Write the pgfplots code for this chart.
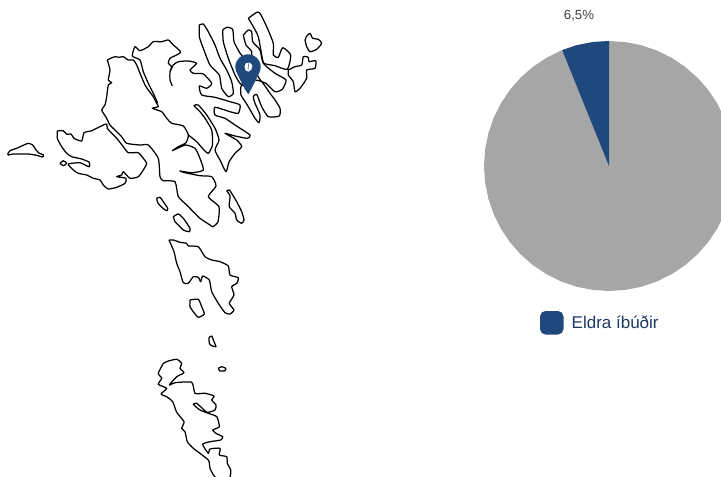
\documentclass[border=0pt]{standalone}
\usepackage{fontspec}
\setmainfont{Liberation Sans}
\usepackage{pgfplots}
\pgfplotsset{compat=1.18}
\definecolor{pieblue}{RGB}{31,73,125}
\definecolor{piegrey}{RGB}{166,166,166}
\definecolor{labgrey}{RGB}{64,64,64}
\definecolor{legtext}{RGB}{28,56,100}
\pgfplotsset{
 isl/.style={black,line width=1.25pt,line join=round,no marks,smooth,tension=0.35},
}
\begin{document}
\begin{tikzpicture}
\useasboundingbox (0,0) rectangle (721bp,477bp);
\begin{axis}[
 at={(0,0)},anchor=south west,
 width=721bp,height=477bp,scale only axis,
 xmin=0,xmax=721,ymin=0,ymax=477,y dir=reverse,
 axis lines=none,enlargelimits=false,clip=true]
% Mykines
\addplot[isl] coordinates {(7.7,154)(10,150.7)(16.7,148.3)(21.7,146)(28.3,143.3)(32.7,145)(36,150)(39.3,153.3)(43.3,154.7)(42.7,157)(36.7,155.3)(28.3,154)(21.7,154)(13.3,154)(8.3,155)(7.7,154)};
% Vagar
\addplot[isl] coordinates {(57.3,131)(63.3,130.7)(66.7,134.3)(71,134)(74,138.3)(81.7,141)(84,132.7)(91.7,130.7)(106,124)(107.3,128.3)(111.7,133.3)(116.7,138.3)(123.3,146.7)(128.3,152.7)(138.3,152.7)(143.3,158.3)(146.7,163.3)(143.3,170)(138.3,176.7)(130,178.3)(123.3,171.7)(121.7,175)(116.7,176.7)(126,178.3)(125,183.3)(116.7,187.3)(108.3,189)(103.3,185)(100,180)(93.3,178.3)(86.7,175)(78.3,173.3)(73.3,170)(68.3,164)(80,162.7)(85,165)(89.3,166.7)(89.3,162.3)(81.7,159)(71.7,156.7)(66.7,153.3)(61.7,146.7)(57.3,138.3)(57.3,131)};
\addplot[isl] coordinates {(60,163.3)(63.3,160.7)(66.7,163.3)(63.3,165.7)(60,163.3)};
% Streymoy
\addplot[isl] coordinates {(107.3,60)(110.7,58.3)(115,56.7)(119.3,57.3)(123.3,56.7)(128.3,60)(133.3,60)(136.7,65)(140,73.3)(145,85)(148.3,90)(153.3,96.7)(156.7,103.3)(158.3,106.7)(152.3,108.3)(161.7,111.7)(166.7,118.3)(171.7,123.3)(183.3,126)(188.3,135)(186,142.7)(178.3,146.7)(172.3,150.7)(178,148)(186,145)(195,148.3)(199.3,156.7)(203.3,170)(191.7,172.7)(180,171)(185,172.7)(200,175.7)(211.7,176.7)(216,186)(208.3,196.7)(219,206.7)(218,221.7)(213,226.7)(210,225)(200,218.3)(186.7,205)(178.3,196.7)(175,181.7)(163.3,180.7)(160,176.7)(158.3,158.3)(148.3,145)(140,145)(126.7,143.3)(121.7,136.7)(116.7,131.7)(110,125)(106.7,118.3)(101.7,110)(105,105)(106.7,96.7)(108.3,85)(111.7,82.7)(108.3,80)(110,70)(107.3,60)};
% Eysturoy
\addplot[isl] coordinates {(157.7,103.3)(153.3,93.3)(148.3,83.3)(143.3,71.7)(140,60)(132.3,56)(135,46.7)(140,50.7)(148.3,46.7)(153.3,41.7)(161.7,41.7)(168.3,40)(173.3,45)(180.7,52.3)(170,58.3)(168.3,63.3)(171.7,66.7)(170,71.7)(170,80)(172.3,86)};
\addplot[isl] coordinates {(170,71.7)(173.3,65)(178.3,61.7)(188.3,61)(196.7,63.3)(190,70)(193.3,73.3)(203.3,74)(211.7,83.3)(206.7,88.3)(199.3,86)(201.7,95)(215,97.3)(230,101.7)(240,105)(238.3,113.3)(230,111.7)(215,107.3)(215,115)(225,118.3)(235,125)(250,135)(247.3,138.3)(235,136)(225,133.3)(236.7,140)(241.7,146.7)(235,153.3)(229,162)(226,171.7)(220,160)(215,150)(219,140)(215,128.3)(206.7,115)(198.3,105)(194,105.7)(200,111.7)(205,118.3)(211.7,130)(212.5,145)(208.3,153.3)(203.3,149.3)(196.7,141.7)(188.3,135)};
% Kunoy / Kalsoy / Bordoy
\addplot[isl] coordinates {(199.3,25)(203.3,24)(208.3,31.7)(215,45)(220,58.3)(226.7,70)(231.7,81.7)(233.3,93.3)(228.3,96.7)(221.7,88.3)(219.3,75)(210,65)(203.3,48.3)(199.3,36.7)(199.3,25)};
\addplot[isl] coordinates {(222.7,30)(226.7,27.3)(232.7,29.3)(234,41.7)(240,53.3)(243.3,58.3)(245,85)(240,83.3)(235,75)(228.3,58.3)(223.3,41.7)(222.7,30)};
\addplot[isl] coordinates {(243.3,35)(248.3,30)(251.7,31.7)(252.7,41.7)(260,50)(263.3,63.3)(275,73.3)(286,80)(282.3,89.3)(275,91.7)(266,83.3)(261,81)(252,65)(251.7,51.7)(246,45)(243.3,35)};
\addplot[isl] coordinates {(240.7,87.3)(241,95)(247.3,105)(255,118.3)(259,122.7)(260,115)(255,103.3)(253.3,96.7)(256.7,94.3)(261.7,106.7)(268.3,116.7)(279.3,116)(280,108.3)(275,100)(270,93.3)(261.7,81.7)(255,80)(245,80)(240.7,87.3)};
% Vidoy
\addplot[isl] coordinates {(248.3,18.3)(256.7,12.3)(260,13.3)(266.7,26.7)(273.3,43.3)(273.3,55)(278.3,57.3)(282.7,47.7)(290.7,55)(287.3,69.3)(275,65.7)(264,63.3)(261.7,55)(258.3,36.7)(253.3,26.7)(248.3,18.3)};
% Svinoy
\addplot[isl] coordinates {(288.3,70)(295,66.7)(301.7,65)(303.3,56.7)(308.3,57.3)(309,61.7)(315.7,60.7)(315,68.3)(306.7,70)(306.7,78.3)(300,88.3)(295,91.7)(293.3,81.7)(288.3,75)(288.3,70)};
% Fugloy
\addplot[isl] coordinates {(305,40)(306.7,36)(310,33.3)(312.7,38.3)(318.3,39.3)(321.7,43.3)(316.7,49.3)(310,51.7)(306.7,46.7)(305,40)};
% Nolsoy
\addplot[isl] coordinates {(226.7,190.7)(229.3,190)(232.7,195)(236.7,201.7)(241.7,211.7)(244,220)(241.7,223.3)(236.7,220)(235,213.3)(229.3,206.7)(230,196)(226.7,190.7)};
% Koltur, Hestur
\addplot[isl] coordinates {(156.7,198.3)(160,197.3)(163.3,201.7)(167.7,208.3)(166.7,210.7)(161.7,207.3)(157.7,202.7)(156.7,198.3)};
\addplot[isl] coordinates {(173.3,216.7)(178.3,214)(183.3,218.3)(190,228.3)(189.3,231.7)(183.3,230)(178.3,225)(175,221.7)(173.3,216.7)};
% Sandoy
\addplot[isl] coordinates {(169,240)(173.3,240)(180,242.3)(186.7,243.3)(188.3,246)(198.3,246.7)(205,256.7)(211.7,260)(220,261.7)(228.3,266)(230,275)(238.3,277.7)(236.7,283.3)(231.7,286.7)(234,295)(229.3,303.3)(234,310)(230,314)(225,312.7)(218.3,303.3)(211.7,291.7)(209.3,280)(202.7,276)(200.7,281.7)(198.3,277.3)(193.3,276.7)(188.3,283.3)(183.3,282.7)(180,271.7)(176.7,263.3)(174,251.7)(169,240)};
% Skuvoy, Dimun
\addplot[isl] coordinates {(190,300)(198.3,299.3)(201.7,306.7)(204.3,314)(198.3,317.3)(193.3,311.7)(190,306.7)(190,300)};
\addplot[isl] coordinates {(209,337.7)(211.7,336)(214,341.7)(216,346.7)(211.7,345.7)(209.3,343.3)(209,337.7)};
\addplot[isl] coordinates {(218.3,368.3)(221.7,366.7)(225.7,368.3)(225,370.7)(220,371)(218.3,368.3)};
% Suduroy
\addplot[isl] coordinates {(163.3,363.3)(168.3,361)(176.7,359.3)(181.7,363.3)(180,368.3)(184,372.7)(176.7,376.7)(169.3,385)(175,382.7)(191.7,382.3)(195,393.3)(205,393.3)(214,396)(211.7,400)(216,405)(215,410)(207.3,412.3)(201.7,407.7)(196.7,403.3)(193.3,404.3)(200,410)(208.3,413.3)(216.7,416.7)(219.3,426.7)(212.7,430)(216,433.3)(222.7,436.7)(220.7,440)(210,441.7)(202.7,444.3)(208.3,453.3)(210,449)(220,448.3)(219.3,455)(226.7,456.7)(227.3,463.3)(230.7,470)(230,477)(225,480)(215,477)(210,468.3)(208.3,460)(193.3,448.3)(187.3,441.7)(185,431.7)(181.7,428.3)(184,421.7)(176.7,412.3)(172.7,401.7)(166.7,396.7)(161,394)(166.7,388.3)(158.3,384.3)(161.7,378.3)(158.3,373.3)(163.3,363.3)};
% Pin
\addplot[fill=pieblue,draw=pieblue,line width=0.3pt,no marks] coordinates {(248,54.5)(251.5,55)(254.25,56.2)(256.9,58.2)(258.8,60.75)(260.1,63.7)(260.5,67)(260,70.3)(258.8,73.25)(255,81)(251,89)(248.3,94)(245,89)(241,81)(237.2,73.25)(236,70.3)(235.5,67)(235.9,63.7)(237.2,60.75)(239.1,58.2)(241.75,56.2)(244.5,55)(248,54.5)};
\addplot[fill=white,draw=none,no marks,smooth] coordinates {(244.6,66.5)(246,63.2)(249,62.6)(252,65)(251.6,69)(248.5,71.6)(245.8,70.6)(244.6,66.5)};
\addplot[draw=pieblue,line width=0.5pt,no marks] coordinates {(248.5,63.5)(248,70)};
% Pie
\addplot[fill=piegrey,draw=none,no marks] coordinates {(609,41)(625.32,42.07)(641.35,45.26)(656.84,50.51)(671.5,57.75)(685.1,66.83)(697.39,77.61)(708.17,89.9)(717.25,103.5)(724.49,118.16)(729.74,133.65)(732.93,149.68)(734,166)(732.93,182.32)(729.74,198.35)(724.49,213.84)(717.25,228.5)(708.17,242.1)(697.39,254.39)(685.1,265.17)(671.5,274.25)(656.84,281.49)(641.35,286.74)(625.32,289.93)(609,291)(592.68,289.93)(576.65,286.74)(561.16,281.49)(546.5,274.25)(532.9,265.17)(520.61,254.39)(509.83,242.1)(500.75,228.5)(493.51,213.84)(488.26,198.35)(485.07,182.32)(484,166)(485.07,149.68)(488.26,133.65)(493.51,118.16)(500.75,103.5)(509.83,89.9)(520.61,77.61)(532.9,66.83)(546.5,57.75)(561.16,50.51)(576.65,45.26)(592.68,42.07)(609,41)};
\addplot[fill=pieblue,draw=none,no marks] coordinates {(609,166)(562.2,50.1)(576.65,45.26)(592.68,42.07)(609,41)(609,166)};
% Legend swatch
\addplot[fill=pieblue,draw=none,no marks,rounded corners=5.5bp] coordinates {(552,311)(563.5,311)(563.5,334.5)(540,334.5)(540,311)(552,311)};
\node[text=labgrey,font=\fontsize{13.2bp}{15bp}\selectfont,anchor=center] at (axis cs:579,15.5) {6,5\%};
\node[text=legtext,font=\fontsize{17bp}{20bp}\selectfont,anchor=west,inner sep=0pt] at (axis cs:571.5,322.5) {Eldra íbúðir};
\end{axis}
\end{tikzpicture}
\end{document}
